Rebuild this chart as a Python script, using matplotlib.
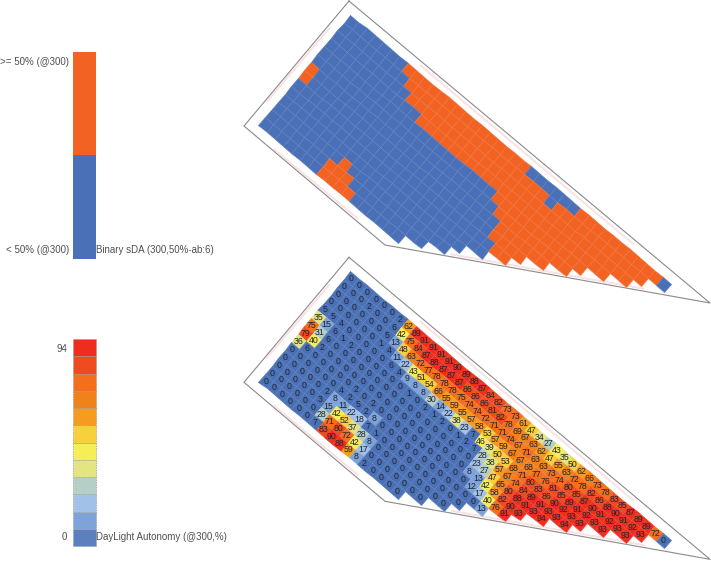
"""Daylight study: binary sDA map (top) and daylight autonomy map (bottom)."""

import matplotlib
matplotlib.use("Agg")
import matplotlib.pyplot as plt
import numpy as np
from matplotlib.colors import BoundaryNorm, ListedColormap

plt.rcParams["font.family"] = ["Liberation Sans", "DejaVu Sans"]

# Daylight autonomy per sensor, one list per row of the rotated grid
DA_ROWS = [
    [0, 0, 0, 0, 0, 0, 2, 62, 89, 91, 91, 91, 91, 90, 89, 88, 87, 84, 82, 73, 73, 61, 47, 34, 27, 43, 35, 50, 62, 66, 73, 78, 83, 85, 87, 89, 89, 72, 0],
    [0, 0, 0, 2, 0, 0, 6, 42, 75, 84, 87, 88, 87, 87, 87, 86, 86, 86, 81, 82, 78, 69, 67, 63, 62, 47, 55, 63, 72, 78, 82, 86, 88, 90, 91, 92, 93],
    [0, 0, 0, 0, 0, 0, 5, 13, 48, 63, 72, 77, 78, 78, 78, 75, 74, 74, 72, 71, 71, 74, 67, 71, 63, 63, 73, 74, 80, 85, 87, 90, 91, 92, 93, 93],
    [0, 0, 0, 0, 0, 0, 1, 4, 11, 22, 43, 51, 54, 66, 55, 59, 55, 57, 58, 53, 57, 59, 67, 67, 68, 77, 76, 81, 85, 89, 91, 92, 93, 93],
    [5, 5, 4, 0, 0, 0, 0, 0, 6, 4, 9, 8, 8, 30, 14, 22, 38, 23, 7, 46, 39, 50, 53, 68, 71, 80, 83, 86, 90, 92, 93, 93],
    [35, 15, 6, 1, 2, 0, 0, 0, 0, 0, 0, 1, 0, 2, 1, 2, 0, 1, 2, 7, 28, 38, 57, 67, 74, 84, 89, 91, 93, 93, 94],
    [75, 31, 6, 0, 0, 0, 0, 0, 0, 0, 0, 0, 0, 0, 0, 0, 0, 0, 0, 0, 23, 27, 47, 65, 80, 88, 91, 93, 94],
    [79, 40, 2, 0, 0, 0, 0, 0, 0, 0, 0, 0, 0, 0, 0, 0, 0, 0, 0, 0, 8, 13, 42, 58, 82, 90, 93],
    [36, 6, 0, 0, 0, 0, 0, 2, 0, 2, 0, 0, 0, 0, 0, 0, 0, 0, 0, 0, 0, 12, 17, 40, 76, 91],
    [0, 0, 0, 0, 0, 0, 4, 2, 5, 2, 8, 0, 0, 0, 0, 0, 0, 0, 0, 0, 0, 0, 0, 13],
    [0, 0, 0, 0, 0, 2, 8, 11, 22, 18, 7, 1, 0, 0, 0, 0, 0, 0, 0, 0, 0, 0],
    [0, 0, 0, 0, 0, 3, 15, 42, 52, 37, 28, 8, 0, 0, 0, 0, 0, 0, 0, 0, 0],
    [0, 0, 0, 0, 0, 0, 28, 71, 80, 72, 42, 17, 0, 0, 0, 0, 0, 0, 0],
    [0, 0, 0, 0, 0, 0, 7, 83, 90, 88, 59, 8, 2, 0, 0, 0, 0],
]

# Binary sDA per sensor, same grid (1 = at least 50 %)
SDA_ROWS = [
    "000000011111111111111100000011111111110",
    "0000000011111111111111111011111111111",
    "000000000111111111111111111111111111",
    "0000000000011111111111111111111111",
    "00000000000000000000011111111111",
    "0000000000000000000000111111111",
    "10000000000000000000000111111",
    "100000000000000000000001111",
    "00000000000000000000000011",
    "000000000000000000000000",
    "0000000000000000000000",
    "000000001000000000000",
    "0000000111000000000",
    "00000001111000000",
]

DA_LEVELS = np.linspace(0, 94, 13)
DA_COLORS = ["#4a70b6", "#7ea3d8", "#a2c1e8", "#b5cfc6", "#e2e582", "#f5ee57",
             "#f8cf3c", "#f69b1f", "#f0821c", "#f46e1b", "#f04b20", "#ee2d1f"]
LEGEND_DA = ["#5c7fbd", "#7ea3d8", "#a2c1e8", "#b5cfc6", "#e2e582", "#f5ee57",
             "#f8cf3c", "#f69b1f", "#f0821c", "#f46e1b", "#f04b20", "#ee2d1f"]
SDA_COLORS = ["#4a70b8", "#f26222"]

# Outline of the floor plate and the thin window strips, in the top plan
OUTLINE_X = [349, 244, 385, 710, 349]
OUTLINE_Y = [1, 126, 245, 303, 1]
WINDOWS = [
    ((330, 28.3), (267.3, 101.7)),
    ((274.3, 149), (358.3, 218.3)),
    ((420.7, 65), (634, 244)),
    ((451.7, 254), (644, 288.3)),
]

# Grid geometry in picture pixels
TOP_CENTRE = (351.0, 22.0)
STEP_U = (8.22, 6.90)
STEP_V = (-6.55, 7.90)
PLAN_SHIFT = 256.3
TEXT_COLOR = "#505050"


def grid_corners(dy):
    n_rows = len(DA_ROWS)
    n_cols = len(DA_ROWS[0])
    jj, ii = np.meshgrid(np.arange(n_cols + 1) - 0.5, np.arange(n_rows + 1) - 0.5)
    x = TOP_CENTRE[0] + jj * STEP_U[0] + ii * STEP_V[0]
    y = TOP_CENTRE[1] + dy + jj * STEP_U[1] + ii * STEP_V[1]
    return x, y


def as_masked(rows):
    n_cols = len(DA_ROWS[0])
    out = np.ma.masked_all((len(rows), n_cols))
    for i, row in enumerate(rows):
        for j, val in enumerate(row):
            out[i, j] = float(val)
    return out


def draw_plan(ax, dy):
    ax.plot(OUTLINE_X, np.array(OUTLINE_Y) + dy, color="#8a8a8a", lw=0.8, zorder=1)
    for (x0, y0), (x1, y1) in WINDOWS:
        ux, uy = x1 - x0, y1 - y0
        norm = np.hypot(ux, uy)
        ox, oy = -uy / norm * 1.0, ux / norm * 1.0
        ax.plot([x0, x1, x1 + ox, x0 + ox, x0], [y0 + dy, y1 + dy, y1 + oy + dy, y0 + oy + dy, y0 + dy],
                color="#fad6d6", lw=0.5, zorder=1)


def draw_cells(ax, x, y, data, **kw):
    # seam free fill first, then a faint grid on top of it
    ax.pcolormesh(x, y, data, edgecolors="face", linewidth=0.5, antialiased=True, zorder=2, **kw)
    ax.pcolormesh(x, y, data, cmap=ListedColormap(["#ffffff00"]), edgecolors="#ffffff18",
                  linewidth=0.4, antialiased=True, zorder=2.5)


def main():
    fig = plt.figure(figsize=(7.11, 5.63), dpi=100)
    ax = fig.add_axes([0, 0, 1, 1])
    ax.set_xlim(0, 711)
    ax.set_ylim(563, 0)
    ax.axis("off")

    # top plan: binary map
    draw_plan(ax, 0)
    x, y = grid_corners(0)
    draw_cells(ax, x, y, as_masked(SDA_ROWS), cmap=ListedColormap(SDA_COLORS), vmin=0, vmax=1)

    # bottom plan: autonomy map with value labels
    draw_plan(ax, PLAN_SHIFT)
    x, y = grid_corners(PLAN_SHIFT)
    draw_cells(ax, x, y, as_masked(DA_ROWS), cmap=ListedColormap(DA_COLORS),
               norm=BoundaryNorm(DA_LEVELS, 12))
    for i, row in enumerate(DA_ROWS):
        for j, val in enumerate(row):
            cx = TOP_CENTRE[0] + j * STEP_U[0] + i * STEP_V[0]
            cy = TOP_CENTRE[1] + PLAN_SHIFT + j * STEP_U[1] + i * STEP_V[1]
            ax.text(cx, cy, str(val), ha="center", va="center", fontsize=6.3,
                    color="#23252e", zorder=3)

    # binary legend
    ax.bar(84.7, 103.3, width=22.7, bottom=51.7, color=SDA_COLORS[1], zorder=2)
    ax.bar(84.7, 104, width=22.7, bottom=155, color=SDA_COLORS[0], zorder=2)
    ax.text(69, 61.7, ">= 50% (@300)", ha="right", va="center", fontsize=7, color=TEXT_COLOR)
    ax.text(69, 250, "< 50% (@300)", ha="right", va="center", fontsize=7, color=TEXT_COLOR)
    ax.text(96.5, 250, "Binary sDA (300,50%-ab:6)", ha="left", va="center", fontsize=7, color=TEXT_COLOR)

    # autonomy legend, twelve steps from the bottom up
    edges = np.linspace(546, 339, 13)
    for k, col in enumerate(LEGEND_DA):
        ax.bar(84.7, edges[k + 1] - edges[k], width=22.7, bottom=edges[k], color=col,
               edgecolor="#9a9a9a", linewidth=0.5, linestyle=(0, (2, 1.5)), zorder=2)
    ax.text(67.5, 349.3, "94", ha="right", va="center", fontsize=7, color=TEXT_COLOR)
    ax.text(67.5, 536.7, "0", ha="right", va="center", fontsize=7, color=TEXT_COLOR)
    ax.text(96.5, 536.7, "DayLight Autonomy (@300,%)", ha="left", va="center", fontsize=7, color=TEXT_COLOR)

    fig.savefig("out.png", dpi=100, facecolor="white")
    plt.close(fig)


if __name__ == "__main__":
    main()
